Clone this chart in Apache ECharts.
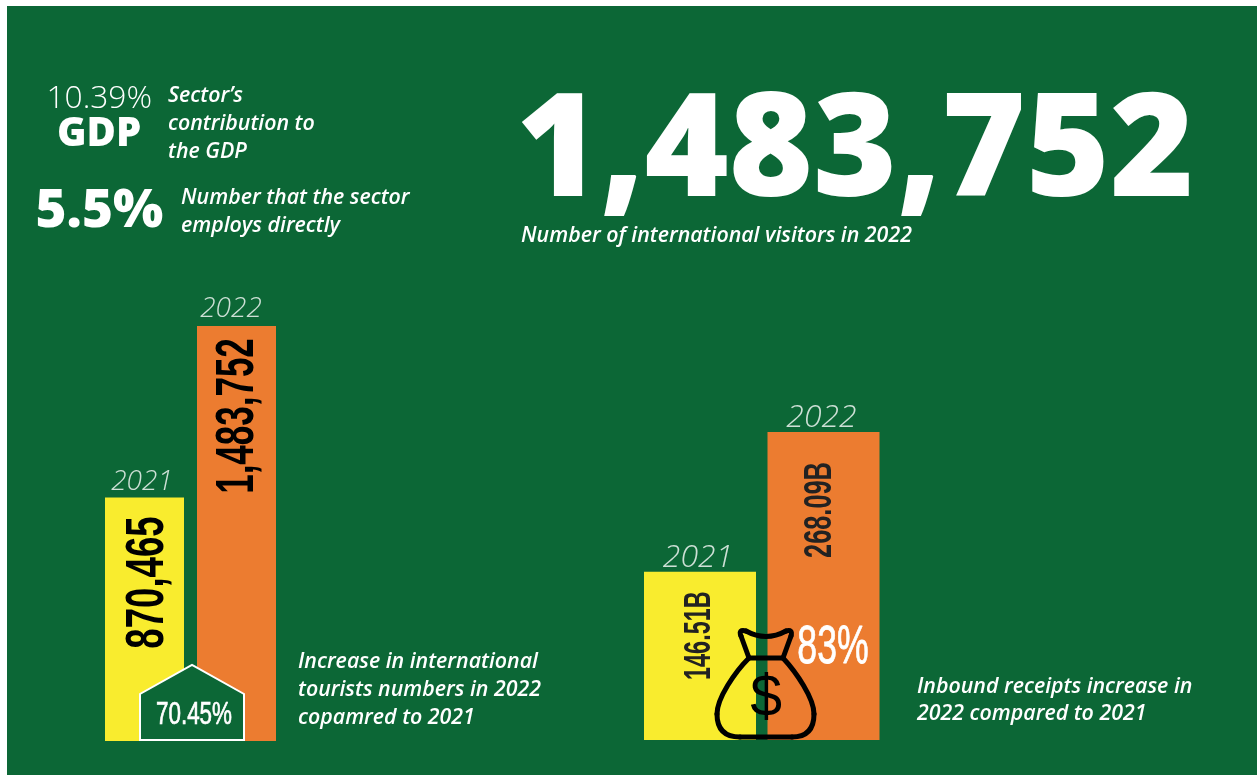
<!DOCTYPE html>
<html><head><meta charset="utf-8">
<style>html,body{margin:0;padding:0;background:#fff}#c{width:1257px;height:775px}</style>
<script src="https://cdn.jsdelivr.net/npm/echarts@6/dist/echarts.min.js"></script>
</head><body><div id="c"></div>
<script>
const years = ['2021', '2022'];
const visitors = [870465, 1483752];
const visitorLabels = ['870,465', '1,483,752'];
const receipts = [146.51, 268.09];
const receiptLabels = ['146.51B', '268.09B'];
const visitorGrowth = '70.45%';
const receiptGrowth = '83%';

const GREEN = '#0c6736', YELLOW = '#f9ec2e', ORANGE = '#ec7c30';
const OS = '"Open Sans"', COND = '"Liberation Sans"';
const NOTE = 21.35;

function t(x, y, text, font, size, weight, style, extra, scaleX) {
  return {type:'text', x, y, z:20, scaleX:scaleX||1, style:Object.assign({text, fill:'#fff', fontFamily:font, fontSize:size,
    fontWeight:weight, fontStyle:style||'normal', textAlign:'left', textVerticalAlign:'middle'}, extra||{})};
}
function barSeries(idx, values, labels, fmt, yearOffsets) {
  return [{
    type:'bar', xAxisIndex:idx, yAxisIndex:idx, barWidth:idx===0?79:112, silent:true,
    data: values.map((v,i)=>({value:v, itemStyle:{color:i===0?YELLOW:ORANGE}}))
  },{
    type:'scatter', xAxisIndex:idx, yAxisIndex:idx, symbolSize:0, silent:true,
    data:values.map((v,i)=>({value:v, label:{offset:yearOffsets[i]}})),
    label:{show:true, position:'top', distance:0, formatter:p=>years[p.dataIndex], fontFamily:OS, fontStyle:'italic', fontWeight:300,
      fontSize:idx===0?28:32, color:'#fff'}
  },{
    type:'custom', xAxisIndex:idx, yAxisIndex:idx, silent:true, z:5, clip:false,
    data: values.map((v,i)=>[i,v]),
    renderItem:(params, api)=>{
      const i = params.dataIndex, f = fmt[i];
      const p = api.coord([api.value(0), api.value(1)]);
      return {type:'text', x:p[0]+f.dx, y:p[1]+f.dy, rotation:Math.PI/2, scaleX:f.sx,
        style:{text:labels[i], fill:f.color, fontFamily:COND, fontWeight:'bold', fontSize:f.size, textAlign:'center', textVerticalAlign:'middle'}};
    }
  }];
}
const chart = echarts.init(document.getElementById('c'), null, {renderer:'canvas'});
const bag = {fill:null, stroke:'#000', lineWidth:5, lineCap:'round', lineJoin:'round'};
const curve = (x1,y1,cpx1,cpy1,x2,y2)=>({type:'bezierCurve', z:16, shape:{x1,y1,x2,y2,cpx1,cpy1}, style:bag});
const curve3 = (x1,y1,cpx1,cpy1,cpx2,cpy2,x2,y2)=>({type:'bezierCurve', z:16, shape:{x1,y1,x2,y2,cpx1,cpy1,cpx2,cpy2}, style:bag});
const line = (x1,y1,x2,y2)=>({type:'line', z:16, shape:{x1,y1,x2,y2}, style:bag});
chart.setOption({
  animation:false,
  backgroundColor:'#fff',
  grid:[
    {left:98.5, width:184, top:326, height:415},
    {left:638.25, width:247, top:432, height:308}
  ],
  xAxis:[0,1].map(i=>({type:'category', gridIndex:i, data:years, show:false})),
  yAxis:[
    {type:'value', gridIndex:0, min:0, max:visitors[1], show:false},
    {type:'value', gridIndex:1, min:0, max:receipts[1], show:false}
  ],
  series:[
    ...barSeries(0, visitors, visitorLabels, [
      {dx:3.5, dy:85, sx:0.69, size:53, color:'#000'},
      {dx:2, dy:90, sx:0.66, size:53, color:'#000'}], [[-2.5,-2],[-5.5,-3]]),
    ...barSeries(1, receipts, receiptLabels, [
      {dx:0, dy:64, sx:0.65, size:36, color:'#222'},
      {dx:-3.5, dy:78, sx:0.65, size:39, color:'#222'}], [[-2,2],[-2,2]])
  ],
  graphic:{elements:[
    {type:'rect', z:-10, shape:{x:7,y:6,width:1250,height:769}, style:{fill:GREEN}},
    t(46.5,99,'10.39%',OS,31.7,300),
    t(57,134.5,'GDP',OS,40,800),
    t(168,96,'Sector’s',OS,NOTE,600,'italic'),
    t(168,124,'contribution to',OS,NOTE,600,'italic'),
    t(168,152,'the GDP',OS,NOTE,600,'italic'),
    t(35.5,212,'5.5%',OS,53,800),
    t(181,198,'Number that the sector',OS,NOTE,600,'italic'),
    t(181,226,'employs directly',OS,NOTE,600,'italic'),
    t(516,155,'1,483,752',OS,143.7,800),
    t(521,236,'Number of international visitors in 2022',OS,NOTE,600,'italic'),
    t(298,662,'Increase in international',OS,NOTE,600,'italic'),
    t(298,690,'tourists numbers in 2022',OS,NOTE,600,'italic'),
    t(298,718,'copamred to 2021',OS,NOTE,600,'italic'),
    t(917,687,'Inbound receipts increase in',OS,NOTE,600,'italic'),
    t(917,714,'2022 compared to 2021',OS,NOTE,600,'italic'),
    {type:'polygon', z:15, shape:{points:[[140,740],[140,694],[192,665],[244,694],[244,740]]},
      style:{fill:GREEN, stroke:'#fff', lineWidth:2}},
    t(194,715,visitorGrowth,COND,32,'normal',null,{textAlign:'center', stroke:'#fff', lineWidth:0.7},0.70),
    t(833,648,receiptGrowth,COND,54,'normal',null,{textAlign:'center', stroke:'#fff', lineWidth:0.8},0.66),
    line(749,658,783,658),
    line(749,658,741,636),
    line(783,658,791,636),
    curve(741,636,738,629,746,631),
    curve(746,631,766,642,786,631),
    curve(786,631,793,629,791,636),
    curve3(749,658,735,672,717,698,717,714),
    curve(717,714,717,737,740,737),
    line(740,737,792,737),
    curve(792,737,814,737,814,714),
    curve3(814,714,814,698,796,672,783,658),
    t(766,699,'$',COND,60,'normal',null,{textAlign:'center', fill:'#000'},0.95)
  ]}
});
</script></body></html>
